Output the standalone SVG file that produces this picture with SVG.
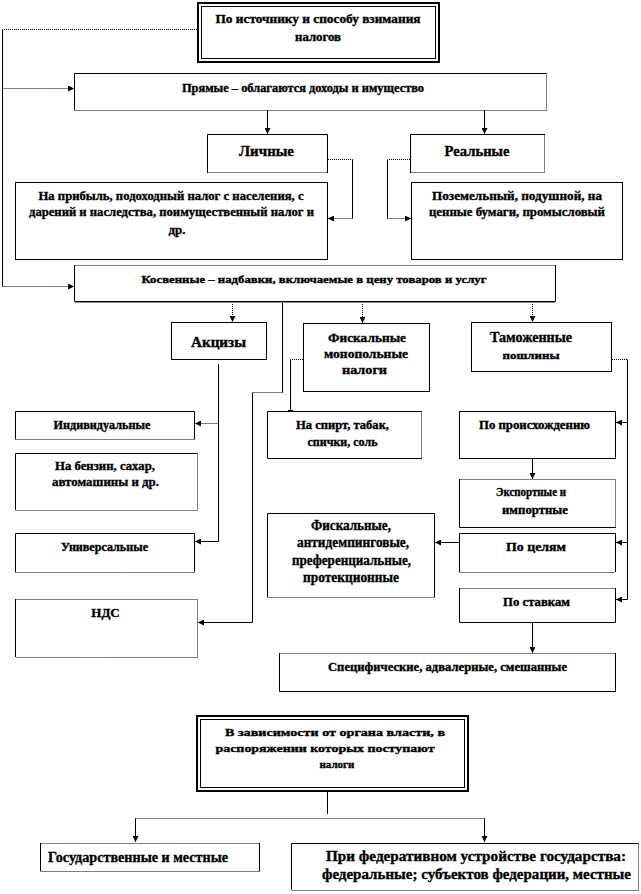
<svg xmlns="http://www.w3.org/2000/svg" width="641" height="894" viewBox="0 0 641 894">
<style>
.f{fill:#fff;stroke:none}
.s{fill:none;stroke:#000;stroke-width:1}
.d{fill:none;stroke:#000;stroke-width:1;stroke-dasharray:1 1}
.g{fill:none;stroke:#888;stroke-width:1}
.w{fill:none;stroke:#000;stroke-width:2}
.t{font-family:"Liberation Serif","Times New Roman",serif;font-weight:bold;text-anchor:middle;fill:#000;stroke:#000;stroke-width:0.35}
.a{marker-end:url(#ah)}
</style>
<defs>
<marker id="ah" viewBox="0 0 6 6" refX="6" refY="3" markerWidth="6" markerHeight="6" markerUnits="userSpaceOnUse" orient="auto">
<path d="M0,0 L6,3 L0,6 z" fill="#000"/>
</marker>
</defs>
<rect width="641" height="894" fill="#fff"/>

<g id="connectors">
<path class="d" d="M197 29.5 H2.5"/>
<path class="s" d="M2.5 29.5 V286.5"/>
<path class="d a" d="M2.5 88.5 H74"/>
<path class="d a" d="M2.5 286.5 H74"/>
<path class="s a" d="M267.5 110 V134"/>
<path class="s a" d="M484.5 110 V134"/>
<path class="d" d="M328 159.5 H352.5"/>
<path class="s" d="M352.5 159.5 V218.5"/>
<path class="d a" d="M352.5 218.5 H328"/>
<path class="d" d="M410 159.5 H387.5"/>
<path class="s" d="M387.5 159.5 V218.5"/>
<path class="d a" d="M387.5 218.5 H411"/>
<path class="d a" d="M232.5 302 V322"/>
<path class="s" d="M282.5 302 V392.5"/>
<path class="d" d="M282.5 392.5 H252.5"/>
<path class="s a" d="M252.5 392.5 V622.5 H198"/>
<path class="d a" d="M362.5 302 V323"/>
<path class="d a" d="M532.5 302 V322"/>
<path class="s a" d="M218.5 364 V541.5 H195"/>
<path class="d a" d="M218.5 423.5 H195"/>
<path class="d" d="M303 359.5 H290.5"/>
<path class="s a" d="M290.5 359.5 V416"/>
<path class="d" d="M612 359.5 H627.5"/>
<path class="s" d="M627.5 359.5 V599.5"/>
<path class="s a" d="M627.5 422.5 H616"/>
<path class="s a" d="M627.5 542.5 H616"/>
<path class="s a" d="M627.5 599.5 H616"/>
<path class="s a" d="M532.5 458 V479"/>
<path class="s a" d="M459 542.5 H435"/>
<path class="s a" d="M532.5 623 V653"/>
<path class="s" d="M327.5 792 V814"/>
<path class="d" d="M135.5 818.5 H484.5"/>
<path class="s a" d="M135.5 818.5 V842"/>
<path class="s a" d="M484.5 818.5 V842"/>
</g>

<g id="n-top">
<rect class="f" x="197" y="2" width="243" height="61"/>
<rect class="w" x="198" y="3" width="241" height="59"/>
<rect class="s" x="201.5" y="6.5" width="234" height="52"/>
<text class="t" x="318" y="23" font-size="12" textLength="205" lengthAdjust="spacingAndGlyphs">По источнику  и способу  взимания</text>
<text class="t" x="318" y="41" font-size="12" textLength="46" lengthAdjust="spacingAndGlyphs">налогов</text>
</g>

<g id="n-pryamye">
<rect class="f" x="74" y="73" width="472" height="37"/>
<path class="s" d="M74.5 110 V73.5 H546"/>
<path class="d" d="M546.5 73.5 V110.5 H74.5"/>
<text class="t" x="303" y="92" font-size="12" textLength="242" lengthAdjust="spacingAndGlyphs">Прямые  – облагаются доходы  и имущество</text>
</g>

<g id="n-lichnye">
<rect class="f" x="207" y="134" width="121" height="39"/>
<path class="s" d="M207.5 173 V134.5 H327.5 V173"/>
<path class="d" d="M327.5 172.5 H207.5"/>
<text class="t" x="266.5" y="156" font-size="14" textLength="55" lengthAdjust="spacingAndGlyphs">Личные</text>
</g>

<g id="n-realnye">
<rect class="f" x="410" y="134" width="135" height="39"/>
<path class="s" d="M410.5 173 V134.5 H545"/>
<path class="d" d="M544.5 134.5 V172.5 H410.5"/>
<text class="t" x="477" y="156" font-size="14" textLength="65" lengthAdjust="spacingAndGlyphs">Реальные</text>
</g>

<g id="n-pribyl">
<rect class="f s" x="15.5" y="182.5" width="312" height="77"/>
<text class="t" x="171" y="200" font-size="13" textLength="265" lengthAdjust="spacingAndGlyphs">На прибыль, подоходный налог с населения, с</text>
<text class="t" x="171.5" y="216" font-size="13" textLength="285" lengthAdjust="spacingAndGlyphs">дарений и наследства,  поимущественный налог  и</text>
<text class="t" x="177" y="234" font-size="13">др.</text>
</g>

<g id="n-pozemelny">
<rect class="f s" x="411.5" y="182.5" width="211" height="77"/>
<text class="t" x="517" y="200" font-size="13" textLength="170" lengthAdjust="spacingAndGlyphs">Поземельный, подушной, на</text>
<text class="t" x="517" y="216" font-size="13" textLength="176" lengthAdjust="spacingAndGlyphs">ценные бумаги, промысловый</text>
</g>

<g id="n-kosvennye">
<rect class="f" x="74" y="265" width="482" height="37"/>
<path class="d" d="M74.5 265.5 H555.5"/>
<path class="s" d="M74.5 265 V301.5 H555.5 V265"/>
<path class="g" d="M75 302.5 H555"/>
<text class="t" x="314" y="283" font-size="11" textLength="345" lengthAdjust="spacingAndGlyphs">Косвенные  – надбавки, включаемые в цену товаров и услуг</text>
</g>

<g id="n-akcizy">
<rect class="f s" x="171.5" y="322.5" width="95" height="37"/>
<text class="t" x="218.5" y="347" font-size="14" textLength="55" lengthAdjust="spacingAndGlyphs">Акцизы</text>
</g>

<g id="n-fiskmonop">
<rect class="f s" x="303.5" y="323.5" width="126" height="68"/>
<text class="t" x="367" y="342" font-size="13" textLength="78" lengthAdjust="spacingAndGlyphs">Фискальные</text>
<text class="t" x="366" y="358" font-size="12" textLength="84" lengthAdjust="spacingAndGlyphs">монопольные</text>
<text class="t" x="364.5" y="374" font-size="12" textLength="45" lengthAdjust="spacingAndGlyphs">налоги</text>
</g>

<g id="n-tamozh">
<rect class="f s" x="471.5" y="322.5" width="140" height="49"/>
<text class="t" x="531" y="342" font-size="14" textLength="82" lengthAdjust="spacingAndGlyphs">Таможенные</text>
<text class="t" x="531" y="359" font-size="11" textLength="57" lengthAdjust="spacingAndGlyphs">пошлины</text>
</g>

<g id="n-individ">
<rect class="f" x="15" y="411" width="180" height="28"/>
<path class="s" d="M15.5 439 V411.5 H194.5 V439"/>
<path class="d" d="M15.5 439.5 H194.5"/>
<text class="t" x="102" y="429" font-size="12" textLength="97" lengthAdjust="spacingAndGlyphs">Индивидуальные</text>
</g>

<g id="n-benzin">
<rect class="f" x="15" y="453" width="183" height="57"/>
<path class="s" d="M15.5 510 V453.5 H197.5"/>
<path class="d" d="M197.5 453.5 V510"/>
<path class="g" d="M15.5 510.5 H198"/>
<text class="t" x="105" y="470" font-size="13" textLength="100" lengthAdjust="spacingAndGlyphs">На бензин, сахар,</text>
<text class="t" x="105.5" y="486" font-size="13" textLength="107" lengthAdjust="spacingAndGlyphs">автомашины  и др.</text>
</g>

<g id="n-universal">
<rect class="f" x="15" y="533" width="180" height="39"/>
<path class="s" d="M15.5 572 V533.5 H194.5 V572"/>
<path class="d" d="M15.5 572.5 H194.5"/>
<text class="t" x="104.5" y="551" font-size="12" textLength="87" lengthAdjust="spacingAndGlyphs">Универсальные</text>
</g>

<g id="n-nds">
<rect class="f" x="15" y="599" width="183" height="58"/>
<path class="s" d="M15.5 599 V657"/>
<path class="d" d="M15.5 599.5 H197.5 V657.5 H15.5"/>
<text class="t" x="105.5" y="617" font-size="13">НДС</text>
</g>

<g id="n-spirt">
<rect class="f" x="267" y="411" width="155" height="47"/>
<path class="s" d="M267.5 458 V411.5 H421.5"/>
<path class="d" d="M421.5 411.5 V458"/>
<path class="s" d="M267.5 458.5 H422"/>
<text class="t" x="342.5" y="429" font-size="12" textLength="93" lengthAdjust="spacingAndGlyphs">На спирт, табак,</text>
<text class="t" x="342.5" y="446" font-size="12">спички, соль</text>
</g>

<g id="n-proishozh">
<rect class="f s" x="459.5" y="411.5" width="156" height="47"/>
<text class="t" x="534.5" y="429" font-size="12" textLength="111" lengthAdjust="spacingAndGlyphs">По происхождению</text>
</g>

<g id="n-eksport">
<rect class="f" x="459" y="479" width="157" height="48"/>
<path class="s" d="M459.5 479 V527.5 H616"/>
<path class="d" d="M459.5 479.5 H615.5 V527"/>
<text class="t" x="531" y="496" font-size="12" textLength="70" lengthAdjust="spacingAndGlyphs">Экспортные и</text>
<text class="t" x="535" y="514" font-size="12" textLength="66" lengthAdjust="spacingAndGlyphs">импортные</text>
</g>

<g id="n-fiskantidemp">
<rect class="f" x="267" y="513" width="168" height="84"/>
<path class="s" d="M267.5 597 V513.5 H434.5 V597"/>
<path class="d" d="M267.5 597.5 H434.5"/>
<text class="t" x="351" y="530" font-size="14" textLength="80" lengthAdjust="spacingAndGlyphs">Фискальные,</text>
<text class="t" x="353" y="547" font-size="14" textLength="112" lengthAdjust="spacingAndGlyphs">антидемпинговые,</text>
<text class="t" x="351.5" y="565" font-size="14" textLength="119" lengthAdjust="spacingAndGlyphs">преференциальные,</text>
<text class="t" x="351" y="582" font-size="14" textLength="96" lengthAdjust="spacingAndGlyphs">протекционные</text>
</g>

<g id="n-celyam">
<rect class="f" x="459" y="533" width="157" height="39"/>
<path class="s" d="M459.5 572 V533.5 H615.5 V572"/>
<path class="d" d="M459.5 572.5 H615.5"/>
<text class="t" x="536" y="551" font-size="12" textLength="60" lengthAdjust="spacingAndGlyphs">По целям</text>
</g>

<g id="n-stavkam">
<rect class="f" x="459" y="588" width="157" height="35"/>
<path class="d" d="M459.5 588.5 H615.5"/>
<path class="s" d="M459.5 588 V622.5 H615.5 V588"/>
<text class="t" x="536.5" y="606" font-size="12" textLength="67" lengthAdjust="spacingAndGlyphs">По ставкам</text>
</g>

<g id="n-specif">
<rect class="f" x="279" y="653" width="337" height="39"/>
<path class="d" d="M279.5 653.5 H615.5"/>
<path class="s" d="M279.5 653 V691.5 H615.5 V653"/>
<text class="t" x="447.5" y="671" font-size="12" textLength="239" lengthAdjust="spacingAndGlyphs">Специфические,  адвалерные,  смешанные</text>
</g>

<g id="n-vlast">
<rect class="f" x="196" y="715" width="273" height="77"/>
<rect class="w" x="197" y="716" width="271" height="75"/>
<rect class="s" x="200.5" y="719.5" width="264" height="68"/>
<text class="t" x="335" y="736" font-size="11" textLength="220" lengthAdjust="spacingAndGlyphs">В зависимости  от органа  власти, в</text>
<text class="t" x="325" y="752" font-size="11" textLength="219" lengthAdjust="spacingAndGlyphs">распоряжении  которых  поступают</text>
<text class="t" x="337" y="768" font-size="11">налоги</text>
</g>

<g id="n-gosud">
<rect class="f" x="40" y="843" width="220" height="28"/>
<path class="d" d="M40.5 843.5 H259.5"/>
<path class="s" d="M40.5 843 V871 M259.5 843 V871"/>
<path class="d" d="M40.5 871.5 H259.5"/>
<text class="t" x="138" y="862" font-size="15" textLength="180" lengthAdjust="spacingAndGlyphs">Государственные и местные</text>
</g>

<g id="n-feder">
<rect class="f" x="291" y="843" width="348" height="47"/>
<path class="s" d="M291.5 890 V843.5 H638.5"/>
<path class="d" d="M638.5 843.5 V890.5 H291.5"/>
<text class="t" x="476" y="861" font-size="15" textLength="300" lengthAdjust="spacingAndGlyphs">При федеративном устройстве государства:</text>
<text class="t" x="476.5" y="879" font-size="15" textLength="309" lengthAdjust="spacingAndGlyphs">федеральные; субъектов федерации, местные</text>
</g>
</svg>
